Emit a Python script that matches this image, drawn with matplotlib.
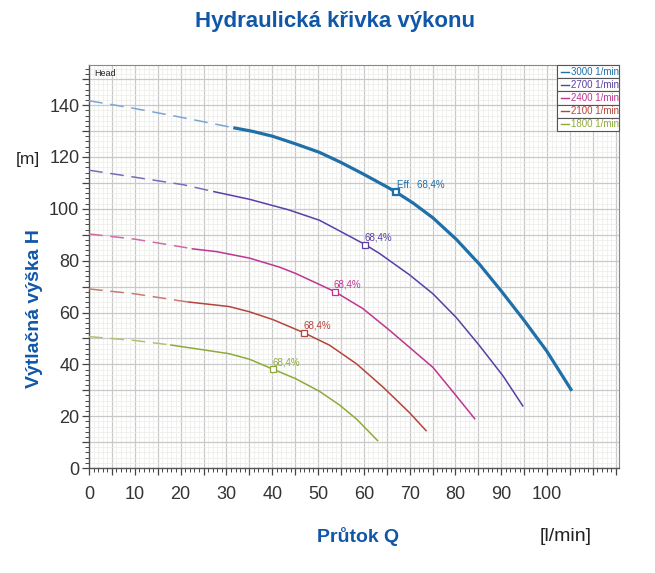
import matplotlib.pyplot as plt
from matplotlib.ticker import MultipleLocator, FuncFormatter
from matplotlib.patches import Rectangle
from matplotlib.lines import Line2D

plt.rcParams['font.family'] = ['Liberation Sans', 'DejaVu Sans']

speeds = ['3000 1/min', '2700 1/min', '2400 1/min', '2100 1/min', '1800 1/min']
colors = ['#1f6fa8', '#5a3ea6', '#bf3590', '#b5443a', '#8eaa3a']
dash_colors = ['#7aa6d2', '#7d68bd', '#cf6aab', '#c97a72', '#aec36e']

# dashed (extrapolated) part of each curve
q_dash = [
    [0, 10, 19.9, 31.5],
    [0, 10, 20.6, 27.1],
    [0, 10, 20.6, 22.4],
    [0, 10, 19.9, 21.5],
    [0, 10, 17.7],
]
h_dash = [
    [141.7, 138.7, 135.4, 131.3],
    [114.9, 112.2, 109.3, 106.7],
    [90.3, 88.3, 85.2, 84.6],
    [69.1, 67.2, 64.5, 64.1],
    [50.7, 49.2, 47.5],
]

# solid (working range) part
q_solid = [
    [31.5, 35.7, 40.1, 45.2, 50.3, 55.0, 59.8, 64.9, 67.0, 70.7, 75.1, 80.2, 85.3, 90.0, 94.8, 99.9, 105.4],
    [27.1, 35.0, 43.6, 50.3, 55.0, 60.3, 63.4, 70.0, 75.1, 80.2, 85.3, 90.4, 94.8],
    [22.4, 27.8, 35.0, 41.6, 45.2, 53.6, 59.8, 65.7, 70.0, 75.1, 80.2, 84.3],
    [21.5, 30.6, 35.0, 40.1, 46.9, 52.5, 58.4, 64.2, 70.0, 73.7],
    [17.7, 24.2, 30.6, 35.0, 40.2, 45.2, 50.3, 54.7, 58.4, 63.1],
]
h_solid = [
    [131.3, 129.9, 128.0, 125.0, 121.8, 117.9, 113.5, 108.6, 106.5, 102.3, 96.5, 88.2, 78.5, 68.3, 57.4, 45.2, 29.8],
    [106.7, 103.7, 99.6, 95.6, 91.2, 86.2, 82.8, 74.5, 67.2, 58.0, 47.1, 35.5, 23.7],
    [84.6, 83.5, 81.0, 77.5, 75.0, 68.1, 61.5, 53.0, 46.5, 38.8, 27.8, 18.8],
    [64.1, 62.3, 60.3, 57.3, 52.2, 47.4, 40.2, 31.2, 21.3, 14.2],
    [47.5, 45.8, 44.1, 42.0, 38.1, 34.4, 29.6, 24.3, 18.9, 10.4],
]

# best efficiency points
eff_q = [67.0, 60.3, 53.6, 46.9, 40.2]
eff_h = [106.5, 86.2, 68.1, 52.2, 38.1]
eff_labels = ['Eff.  68,4%', '68,4%', '68,4%', '68,4%', '68,4%']

fig = plt.figure(figsize=(6.55, 5.73), dpi=100)
ax = fig.add_axes([0.1359, 0.1832, 0.8091, 0.7034])

for i in range(len(speeds)):
    lw = 2.3 if i == 0 else 1.1
    ax.plot(q_dash[i], h_dash[i], color=dash_colors[i], lw=1.1, dashes=(9, 5), zorder=3)
    ax.plot(q_solid[i], h_solid[i], color=colors[i], lw=lw, zorder=4,
            solid_capstyle='butt', solid_joinstyle='round')
    ax.plot(eff_q[i], eff_h[i], marker='s', ms=5 if i == 0 else 4.5, mfc='white',
            mec=colors[i], mew=1.6 if i == 0 else 0.9, zorder=5)
    if i == 0:
        ax.annotate(eff_labels[i], (eff_q[i], eff_h[i]), xytext=(1, 2), textcoords='offset points',
                    fontsize=7, color=colors[i], ha='left', va='bottom', zorder=6)
    else:
        ax.annotate(eff_labels[i], (eff_q[i], eff_h[i]), xytext=(-0.5, 1.5), textcoords='offset points',
                    fontsize=7, color=colors[i], ha='left', va='bottom', zorder=6)

ax.set_xlim(0, 115.7)
ax.set_ylim(0, 155.5)

ax.xaxis.set_major_locator(MultipleLocator(5))
ax.xaxis.set_minor_locator(MultipleLocator(1))
ax.yaxis.set_major_locator(MultipleLocator(10))
ax.yaxis.set_minor_locator(MultipleLocator(2))
ax.xaxis.set_major_formatter(FuncFormatter(lambda v, p: f'{v:.0f}' if v % 10 == 0 and v <= 100 else ''))
ax.yaxis.set_major_formatter(FuncFormatter(lambda v, p: f'{v:.0f}' if v % 20 == 0 else ''))

ax.grid(which='major', color='#c9c9c9', lw=0.9)
ax.grid(which='minor', color='#ebebe6', lw=0.5)
ax.set_axisbelow(True)

ax.tick_params(axis='both', which='major', length=5, width=0.9, color='#444',
               labelsize=13, labelcolor='#333')
ax.tick_params(axis='x', which='major', pad=8)
ax.tick_params(axis='y', which='major', pad=2)
ax.tick_params(axis='both', which='minor', length=3, width=0.7, color='#444')

for s in ['left', 'bottom']:
    ax.spines[s].set_color('#555')
    ax.spines[s].set_linewidth(1.0)
for s in ['top', 'right']:
    ax.spines[s].set_color('#888')
    ax.spines[s].set_linewidth(0.8)

ax.text(0.01, 0.99, 'Head', transform=ax.transAxes, fontsize=6.5, color='#222',
        ha='left', va='top')

# legend: one little framed box per speed
box_x, box_w = 557 / 655, 62 / 655
box_top, box_h = 1 - 65 / 573, 13.2 / 573
for i, lab in enumerate(speeds):
    y0 = box_top - (i + 1) * box_h
    fig.patches.append(Rectangle((box_x, y0), box_w, box_h, transform=fig.transFigure,
                                 facecolor='white', edgecolor='#555', lw=0.8, zorder=10))
    fig.lines.append(Line2D([box_x + 4 / 655, box_x + 12 / 655], [y0 + box_h / 2] * 2,
                            transform=fig.transFigure, color=colors[i], lw=1.0, zorder=11))
    fig.text(box_x + 14 / 655, y0 + box_h / 2, lab, fontsize=7, color=colors[i],
             ha='left', va='center', zorder=11)

blue = '#1157a8'
fig.text(0.511, 0.962, 'Hydraulická křivka výkonu', fontsize=16, fontweight='bold',
         color=blue, ha='center', va='center')
fig.text(0.053, 0.462, 'Výtlačná výška H', fontsize=14, fontweight='bold', color=blue,
         rotation=90, ha='center', va='center')
fig.text(0.042, 0.721, '[m]', fontsize=12.5, color='#222', ha='center', va='center')
fig.text(0.547, 0.063, 'Průtok Q', fontsize=14, fontweight='bold', color=blue,
         ha='center', va='center')
fig.text(0.864, 0.063, '[l/min]', fontsize=14, color='#222', ha='center', va='center')

fig.savefig('out.png', dpi=100)
